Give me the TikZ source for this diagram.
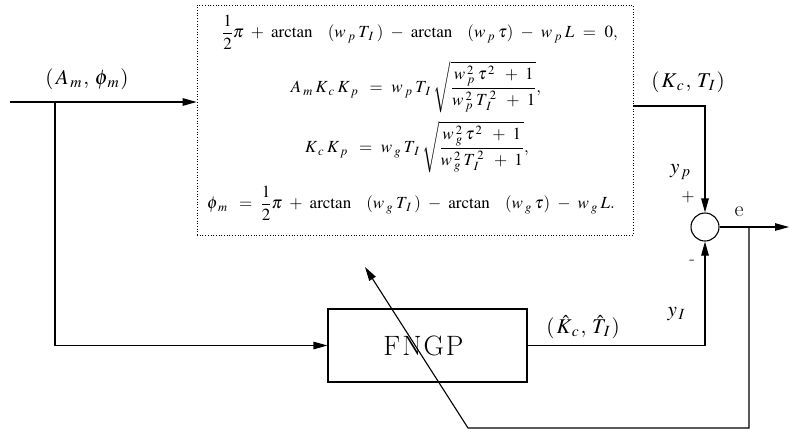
\documentclass[tikz,border=0pt]{standalone}
\usepackage{mathptmx}
\usetikzlibrary{arrows.meta}
\newcommand\ssub[2]{#1_{\mkern3mu#2}\mkern3mu}
\newcommand\ssubsup[3]{#1^{\mkern3mu#3}_{\mkern3mu#2}\mkern3mu}
\newcommand\ssup[2]{#1^{\mkern2mu#2}\mkern3mu}
\newcommand\opp[1]{\mkern5mu#1\mkern5mu}
\newcommand\arct{\arctan\mkern16mu}
\newcommand\lsub[2]{#1_{\mkern2mu#2}\mkern1mu}
\begin{document}
\begin{tikzpicture}[x=1pt,y=-1pt,
  line/.style={line width=1.1pt},
  arr/.style={line, -{Triangle[length=14pt,width=7.5pt]}},
  eq/.style={inner sep=0pt, font=\fontsize{17}{20}\selectfont},
  lbl/.style={inner sep=0pt, font=\fontsize{21}{24}\selectfont}]
\useasboundingbox (0,0) rectangle (789,432);
% equation box
\node[draw, dotted, line width=0.7pt, minimum width=436pt, minimum height=230pt, inner sep=0pt] (eqbox) at (415,120) {};
\node[eq] (eqA) at (420,32) {$\displaystyle \frac{1}{2}\pi \opp{+} \arct(\ssub{w}{p}\ssub{T}{I}) \opp{-} \arct(\ssub{w}{p}\tau) \opp{-} \ssub{w}{p}L \opp{=} 0,$};
\node[eq] (eqB) at (416,87) {$\displaystyle \ssub{A}{m}\ssub{K}{c}\ssub{K}{p} \opp{=} \ssub{w}{p}\ssub{T}{I}\sqrt{\frac{\ssubsup{w}{p}{2}\ssup{\tau}{2}\opp{+}1}{\ssubsup{w}{p}{2}\ssubsup{T}{I}{2}\opp{+}1}},$};
\node[eq] (eqC) at (417,147) {$\displaystyle \ssub{K}{c}\ssub{K}{p} \opp{=} \ssub{w}{g}\ssub{T}{I}\sqrt{\frac{\ssubsup{w}{g}{2}\ssup{\tau}{2}\opp{+}1}{\ssubsup{w}{g}{2}\ssubsup{T}{I}{2}\opp{+}1}},$};
\node[eq] (eqD) at (411,203) {$\displaystyle \ssub{\phi}{m} \opp{=} \frac{1}{2}\pi \opp{+} \arct(\ssub{w}{g}\ssub{T}{I}) \opp{-} \arct(\ssub{w}{g}\tau) \opp{-} \ssub{w}{g}L.$};
% FNGP block
\node[draw, line, minimum width=199pt, minimum height=73pt, inner sep=0pt, font=\fontsize{28}{30}\selectfont] (fngp) at (427.5,345.5) {F\kern2pt N\kern2pt G\kern2pt P\kern8pt};
% summing junction
\node[draw, line, circle, minimum size=28pt, inner sep=0pt] (sum) at (705,227) {};
% coordinates
\coordinate (in) at (10,102);
\coordinate (br) at (55,102);
\coordinate (kc) at (633,106);
\coordinate (out) at (789,227);
\coordinate (tap) at (749,227);
\coordinate (fb1) at (749,428);
\coordinate (fb2) at (468,428);
\coordinate (fbtip) at (365,267);
% connectors
\draw[arr] (in) -- (in -| eqbox.west);
\draw[arr] (br) |- (fngp.west);
\draw[arr] (kc) -| (sum.north);
\draw[arr] (fngp.east) -| (sum.south);
\draw[arr] (sum.east) -- (out);
\draw[arr] (tap) -- (fb1) -- (fb2) -- (fbtip);
% labels
\node[lbl] (lam) at (87,79) {$(\mkern2mu\lsub{A}{m},\mkern3mu\lsub{\phi}{m})$};
\node[lbl] (lkt) at (688,82) {$(\mkern2mu\lsub{K}{c},\mkern3mu\lsub{T}{I})$};
\node[lbl] (lkth) at (583,327) {$(\mkern2mu\lsub{\hat{K}}{c},\mkern3mu\lsub{\hat{T}}{I})$};
\node[lbl] (lyi) at (677,314) {$\lsub{y}{I}$};
\node[lbl] (lyp) at (681,172) {$\lsub{y}{p}$};
\node[lbl, font=\fontsize{17}{20}\selectfont] (lplus) at (688,197) {$+$};
\node[lbl, font=\fontsize{18}{20}\selectfont] (lminus) at (692,262) {-};
\node[lbl, font=\fontsize{22}{24}\selectfont] (le) at (739,212) {e};
\end{tikzpicture}
\end{document}
